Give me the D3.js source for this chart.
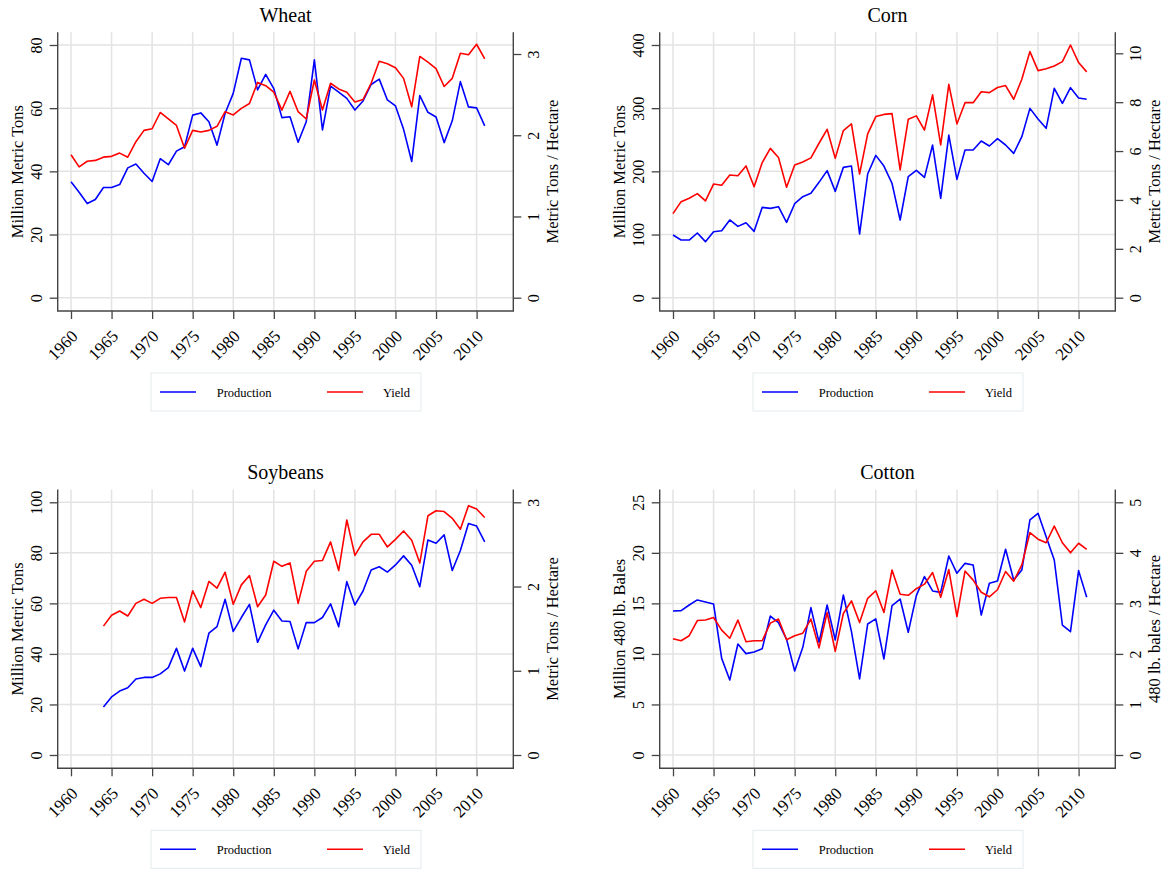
<!DOCTYPE html>
<html><head><meta charset="utf-8">
<script src="https://cdn.jsdelivr.net/npm/d3@7"></script>
<style>
body{margin:0;background:#fff}
text{font-family:"Liberation Serif","Times New Roman",serif;fill:#000}
</style>
</head><body>
<svg id="c" width="1164" height="869"></svg>
<script>
// ---------- DATA ----------
const years = [1960,1961,1962,1963,1964,1965,1966,1967,1968,1969,
  1970,1971,1972,1973,1974,1975,1976,1977,1978,1979,
  1980,1981,1982,1983,1984,1985,1986,1987,1988,1989,
  1990,1991,1992,1993,1994,1995,1996,1997,1998,1999,
  2000,2001,2002,2003,2004,2005,2006,2007,2008,2009,
  2010,2011];
const yearTicks = [1960,1965,1970,1975,1980,1985,1990,1995,2000,2005,2010];

const wheatProduction = [36.7,33.4,29.8,31.1,34.9,34.9,35.8,41.1,42.3,39.4,
  36.8,44.0,42.1,46.4,47.8,57.8,58.5,55.7,48.3,58.4,
  64.7,75.8,75.3,65.8,70.7,66.2,57.0,57.3,49.2,55.7,
  75.3,53.1,67.0,65.1,63.1,59.4,62.3,67.5,69.2,62.6,
  60.7,53.3,43.1,64.0,58.7,57.2,49.1,56.0,68.4,60.4,
  60.1,54.4];
const wheatYield = [1.76,1.61,1.68,1.69,1.73,1.74,1.78,1.73,1.92,2.06,
  2.08,2.28,2.20,2.12,1.84,2.06,2.04,2.06,2.11,2.29,
  2.25,2.33,2.39,2.65,2.61,2.53,2.31,2.54,2.29,2.20,
  2.68,2.31,2.64,2.57,2.53,2.41,2.44,2.64,2.91,2.88,
  2.83,2.70,2.35,2.97,2.90,2.82,2.60,2.70,3.01,2.99,
  3.12,2.94];

const cornProduction = [99.2,91.3,91.3,102.4,88.7,104.5,106.1,123.0,112.9,118.7,
  105.0,143.0,141.4,144.1,119.3,148.8,159.9,165.2,182.6,201.1,
  168.3,206.3,208.4,100.8,195.8,225.3,208.4,181.0,123.0,191.6,
  201.6,190.5,241.7,157.3,257.5,187.3,233.8,233.8,248.0,240.1,
  251.7,241.7,228.5,254.9,299.7,282.8,268.1,331.4,307.7,332.5,
  316.1,314.0];
const cornYield = [3.44,3.93,4.07,4.26,3.96,4.65,4.60,5.02,4.99,5.39,
  4.54,5.53,6.11,5.74,4.52,5.43,5.55,5.72,6.32,6.89,
  5.70,6.84,7.11,5.06,6.70,7.41,7.50,7.53,5.23,7.30,
  7.44,6.86,8.30,6.25,8.73,7.11,7.98,7.98,8.43,8.39,
  8.60,8.68,8.12,8.94,10.07,9.29,9.37,9.48,9.66,10.34,
  9.62,9.24];

const soyProduction = [null,null,null,null,19.0,23.0,25.3,26.6,30.1,30.7,
  30.7,32.1,34.6,42.2,33.2,42.2,35.0,48.2,50.8,61.6,
  48.9,54.4,59.6,44.6,51.5,57.3,53.0,52.8,42.0,52.4,
  52.4,54.4,59.8,50.8,68.6,59.4,64.9,73.2,74.5,72.4,
  75.2,78.8,75.1,66.6,85.1,83.8,87.1,73.0,80.9,91.6,
  90.6,84.3];
const soyYield = [null,null,null,null,1.53,1.66,1.71,1.65,1.80,1.85,
  1.80,1.86,1.87,1.87,1.58,1.95,1.75,2.06,1.98,2.17,
  1.79,2.02,2.13,1.76,1.90,2.30,2.24,2.28,1.80,2.18,
  2.30,2.31,2.53,2.19,2.79,2.37,2.53,2.62,2.62,2.47,
  2.56,2.66,2.55,2.28,2.84,2.90,2.89,2.81,2.68,2.96,
  2.92,2.82];

const cottonProduction = [14.25,14.28,14.84,15.34,15.14,14.94,9.56,7.42,10.98,10.03,
  10.19,10.52,13.75,13.09,11.44,8.31,10.65,14.58,11.15,14.84,
  11.38,15.83,12.20,7.52,12.96,13.46,9.50,14.78,15.43,12.14,
  15.77,17.65,16.23,16.09,19.69,17.97,18.96,18.80,13.85,16.99,
  17.22,20.35,17.32,18.30,23.25,23.91,21.60,19.29,12.86,12.20,
  18.24,15.60];
const cottonYield = [2.30,2.26,2.36,2.66,2.67,2.72,2.47,2.31,2.67,2.24,
  2.26,2.26,2.61,2.69,2.28,2.36,2.41,2.69,2.12,2.82,
  2.05,2.80,3.05,2.62,3.10,3.25,2.82,3.66,3.18,3.16,
  3.29,3.38,3.61,3.12,3.67,2.74,3.64,3.46,3.22,3.13,
  3.27,3.63,3.44,3.76,4.40,4.27,4.20,4.53,4.20,4.00,
  4.19,4.07];

const wheatLeftTicks = [0,20,40,60,80];
const wheatRightTicks = [0,1,2,3];
const cornLeftTicks = [0,100,200,300,400];
const cornRightTicks = [0,2,4,6,8,10];
const soyLeftTicks = [0,20,40,60,80,100];
const soyRightTicks = [0,1,2,3];
const cottonLeftTicks = [0,5,10,15,20,25];
const cottonRightTicks = [0,1,2,3,4,5];

const legendLabels = ["Production","Yield"];
const seriesColors = ["#0000ff","#ff0000"];

// ---------- PANELS ----------
const panels = [
  {title:"Wheat", dx:0, dy:0, prod:wheatProduction, yld:wheatYield,
   lt:wheatLeftTicks, rt:wheatRightTicks, rTopY:54.0,
   lLabel:"Million Metric Tons", rLabel:"Metric Tons / Hectare"},
  {title:"Corn", dx:602, dy:0, prod:cornProduction, yld:cornYield,
   lt:cornLeftTicks, rt:cornRightTicks, rTopY:53.3,
   lLabel:"Million Metric Tons", rLabel:"Metric Tons / Hectare"},
  {title:"Soybeans", dx:0, dy:457.3, prod:soyProduction, yld:soyYield,
   lt:soyLeftTicks, rt:soyRightTicks, rTopY:45,
   lLabel:"Million Metric Tons", rLabel:"Metric Tons / Hectare"},
  {title:"Cotton", dx:602, dy:457.3, prod:cottonProduction, yld:cottonYield,
   lt:cottonLeftTicks, rt:cottonRightTicks, rTopY:45,
   lLabel:"Million 480 lb. Bales", rLabel:"480 lb. bales / Hectare"}
];

const svg = d3.select("#c");
const P = {left:57.7, right:513.3, top:32.3, bottom:311, zeroY:297.7, topTickY:45};
const axisColor = "#444";
const gridColor = "#e3e3e3";
const FONT = '"Liberation Serif","Times New Roman",serif';

const x = d3.scaleLinear().domain([1960,2010]).range([71,476.6]);

panels.forEach(p => {
  const g = svg.append("g").attr("transform", `translate(${p.dx},${p.dy})`);
  const yL = d3.scaleLinear().domain([0, d3.max(p.lt)]).range([P.zeroY, P.topTickY]);
  const yR = d3.scaleLinear().domain([0, d3.max(p.rt)]).range([P.zeroY, p.rTopY]);

  // grid
  g.append("g").selectAll("line").data(yearTicks).join("line")
    .attr("x1", d=>x(d)).attr("x2", d=>x(d))
    .attr("y1", P.top).attr("y2", P.bottom)
    .attr("stroke", gridColor).attr("stroke-width", 1.5);
  g.append("g").selectAll("line").data(p.lt).join("line")
    .attr("x1", P.left).attr("x2", P.right)
    .attr("y1", d=>yL(d)).attr("y2", d=>yL(d))
    .attr("stroke", gridColor).attr("stroke-width", 1.5);

  // lines
  const prodLine = d3.line().defined(d=>d[1]!=null).x(d=>x(d[0])).y(d=>yL(d[1]));
  const yldLine = d3.line().defined(d=>d[1]!=null).x(d=>x(d[0])).y(d=>yR(d[1]));
  g.append("path").datum(years.map((yr,i)=>[yr,p.prod[i]]))
    .attr("d", prodLine).attr("fill","none").attr("stroke",seriesColors[0])
    .attr("stroke-width",1.6).attr("stroke-linejoin","round");
  g.append("path").datum(years.map((yr,i)=>[yr,p.yld[i]]))
    .attr("d", yldLine).attr("fill","none").attr("stroke",seriesColors[1])
    .attr("stroke-width",1.6).attr("stroke-linejoin","round");

  // axes
  const ax = g.append("g").attr("transform",`translate(0,${P.bottom})`)
    .attr("font-family", FONT)
    .call(d3.axisBottom(x).tickValues(yearTicks).tickSize(8).tickFormat(d3.format("d")));
  ax.attr("font-family", FONT).attr("font-size", 17);
  ax.select(".domain").remove();
  ax.selectAll(".tick line").attr("stroke",axisColor).attr("stroke-width",1.3);
  ax.selectAll(".tick text")
    .attr("x",0).attr("y",0).attr("dy","0.35em")
    .attr("transform","translate(3,22) rotate(-45)")
    .attr("text-anchor","end").style("font-size","17px")
    .style("font-family",FONT).attr("fill","#000");

  const al = g.append("g").attr("transform",`translate(${P.left},0)`)
    .call(d3.axisLeft(yL).tickValues(p.lt).tickSize(8).tickFormat(d3.format("d")));
  al.attr("font-family", FONT).attr("font-size", 16);
  al.select(".domain").remove();
  al.selectAll(".tick line").attr("stroke",axisColor).attr("stroke-width",1.3);
  al.selectAll(".tick text")
    .attr("x",0).attr("y",0).attr("dy",0)
    .attr("transform","translate(-16,0) rotate(-90)")
    .attr("text-anchor","middle").style("font-size","16px")
    .style("font-family",FONT).attr("fill","#000");

  const ar = g.append("g").attr("transform",`translate(${P.right},0)`)
    .call(d3.axisRight(yR).tickValues(p.rt).tickSize(8).tickFormat(d3.format("d")));
  ar.attr("font-family", FONT).attr("font-size", 16);
  ar.select(".domain").remove();
  ar.selectAll(".tick line").attr("stroke",axisColor).attr("stroke-width",1.3);
  ar.selectAll(".tick text")
    .attr("x",0).attr("y",0).attr("dy",0)
    .attr("transform","translate(26,0) rotate(-90)")
    .attr("text-anchor","middle").style("font-size","16px")
    .style("font-family",FONT).attr("fill","#000");

  // frame lines (no top)
  g.append("path")
    .attr("d",`M${P.left},${P.top}V${P.bottom}H${P.right}V${P.top}`)
    .attr("fill","none").attr("stroke",axisColor).attr("stroke-width",1.4);

  // titles
  const midY = (P.top+P.bottom)/2;
  g.append("text").attr("x",(P.left+P.right)/2).attr("y",21.7)
    .attr("text-anchor","middle").style("font-size","20px").text(p.title);
  g.append("text").attr("transform",`translate(23,${midY}) rotate(-90)`)
    .attr("text-anchor","middle").style("font-size","16.5px").text(p.lLabel);
  g.append("text").attr("transform",`translate(558,${midY}) rotate(-90)`)
    .attr("text-anchor","middle").style("font-size","16.5px").text(p.rLabel);

  // legend
  const lg = g.append("g");
  lg.append("rect").attr("x",151).attr("y",373).attr("width",270).attr("height",38)
    .attr("fill","#fff").attr("stroke","#e4ebee").attr("stroke-width",1);
  const items = [{x1:160,x2:196,tx:216.7},{x1:327,x2:363,tx:383}];
  items.forEach((it,i)=>{
    lg.append("line").attr("x1",it.x1).attr("x2",it.x2).attr("y1",392).attr("y2",392)
      .attr("stroke",seriesColors[i]).attr("stroke-width",1.6);
    lg.append("text").attr("x",it.tx).attr("y",396.5).style("font-size","12.5px")
      .text(legendLabels[i]);
  });
});
</script>
</body></html>
